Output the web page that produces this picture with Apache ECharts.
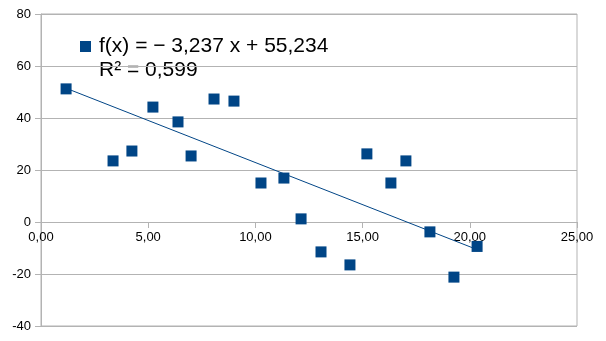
<!DOCTYPE html>
<html>
<head>
<meta charset="utf-8">
<script src="https://cdn.jsdelivr.net/npm/echarts@6/dist/echarts.min.js"></script>
<style>html,body{margin:0;padding:0;background:#fff}#c{width:606px;height:341px}</style>
</head>
<body>
<div id="c"></div>
<script>
const xValues = [1.17, 3.36, 4.24, 5.22, 6.39, 7.0, 8.07, 9.0, 10.26, 11.33, 12.13, 13.06, 14.41, 15.2, 16.32, 17.02, 18.14, 19.26, 20.34];
const yValues = [51.2, 23.5, 27.3, 44.2, 38.5, 25.4, 47.3, 46.5, 15.0, 16.9, 1.2, -11.5, -16.5, 26.2, 15.0, 23.5, -3.8, -21.2, -9.4];
const slope = -3.237;
const intercept = 55.234;
const rSquared = "0,599";
const equationLabel = "f(x) = − 3,237 x + 55,234";
const xTicks = [0, 5, 10, 15, 20, 25];
const yTicks = [-40, -20, 0, 20, 40, 60, 80];

const points = xValues.map((x, i) => [x, yValues[i]]);
const xMin = Math.min(...xValues), xMax = Math.max(...xValues);
const trend = [[xMin, slope * xMin + intercept], [xMax, slope * xMax + intercept]];
const fmt = v => v.toFixed(2).replace('.', ',');

const chart = echarts.init(document.getElementById('c'), null, {renderer: 'canvas'});
chart.setOption({
  animation: false,
  textStyle: {fontFamily: 'Liberation Sans'},
  grid: {left: 41, top: 14, right: 29, bottom: 15, outerBoundsMode: 'none', containLabel: false, show: true, borderColor: '#b3b3b3', borderWidth: 1},
  legend: {
    left: 80, top: 36, icon: 'rect', itemWidth: 11, itemHeight: 11, itemGap: 0, padding: 0,
    textStyle: {fontSize: 21, color: '#000', fontFamily: 'Liberation Sans', padding: [0, 0, 0, 3]},
    data: [equationLabel]
  },
  graphic: [{type: 'text', left: 99, top: 60, style: {text: 'R² = ' + rSquared, fontSize: 21, fill: '#000', fontFamily: 'Liberation Sans'}}],
  xAxis: {
    type: 'value', min: xTicks[0], max: xTicks[xTicks.length - 1], interval: 5,
    position: 'bottom', offset: -104,
    axisLine: {onZero: false, lineStyle: {color: '#b3b3b3'}},
    axisTick: {show: true, length: 6, lineStyle: {color: '#b3b3b3'}},
    axisLabel: {color: '#000', fontSize: 13, margin: 9, formatter: fmt},
    splitLine: {show: false}
  },
  yAxis: {
    type: 'value', min: yTicks[0], max: yTicks[yTicks.length - 1], interval: 20,
    axisLine: {show: true, lineStyle: {color: '#b3b3b3'}},
    axisTick: {show: true, length: 6, lineStyle: {color: '#b3b3b3'}},
    axisLabel: {color: '#000', fontSize: 13, margin: 10},
    splitLine: {show: true, lineStyle: {color: '#b3b3b3'}}
  },
  series: [
    {name: 'trend', type: 'line', data: trend, symbol: 'none', lineStyle: {color: '#004586', width: 1}, z: 2},
    {name: equationLabel, type: 'scatter', data: points, symbol: 'rect', symbolSize: 11, itemStyle: {color: '#004586', opacity: 1}, z: 3}
  ]
});
</script>
</body>
</html>
